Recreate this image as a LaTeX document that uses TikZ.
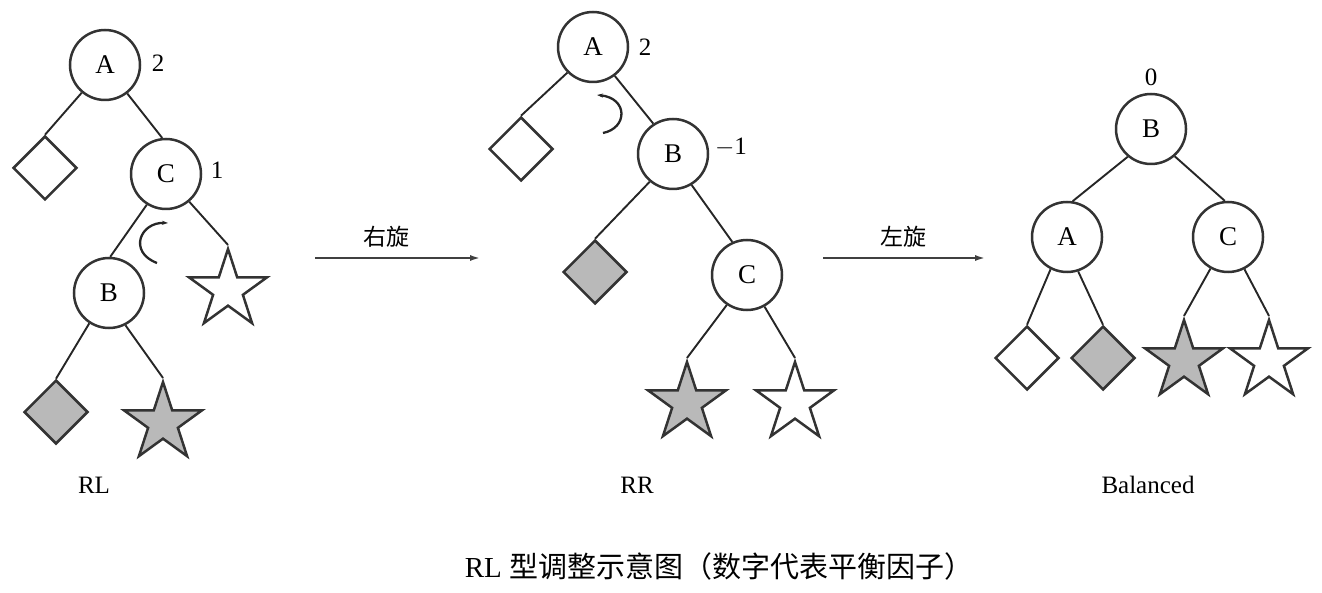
\documentclass[tikz,border=0pt]{standalone}
\usepackage{fontspec}
\setmainfont{Liberation Serif}
\newfontfamily\cjk{Noto Sans CJK SC}
\usetikzlibrary{shapes.geometric,arrows.meta}
\begin{document}
\begin{tikzpicture}[x=1pt,y=-1pt,
  nd/.style={circle,draw=black!80,line width=2.5pt,minimum size=70pt,inner sep=0pt,font=\fontsize{27}{27}\selectfont},
  dia/.style={diamond,draw=black!80,line width=2.5pt,minimum size=64pt,inner sep=0pt},
  stp/.style={star,star points=5,star point ratio=2.618,draw=black!80,line width=2.5pt,minimum size=82pt,inner sep=0pt},
  gfill/.style={fill=gray!55},
  wfill/.style={fill=white},
  edge/.style={draw=black!85,line width=1.9pt},
  bfac/.style={font=\fontsize{25}{25}\selectfont,inner sep=0pt},
  lbl/.style={font=\fontsize{25}{25}\selectfont,inner sep=0pt},
  curl/.style={draw=black!85,line width=2.3pt},
  rot/.style={draw=black!75,line width=2.3pt,-{Latex[length=11pt,width=6pt]}},
  rotlbl/.style={font=\cjk\fontsize{23}{23}\selectfont,inner sep=0pt},
]
\useasboundingbox (0,0) rectangle (1322,593);

% ---------- Left tree (RL) ----------
\node[nd] (LA) at (105,65) {A};
\node[nd] (LC) at (166,174) {C};
\node[nd] (LB) at (109,293) {B};
\node[dia,wfill] (Ld1) at (45,168) {};
\node[dia,gfill] (Ld2) at (56,412) {};
\node[stp,wfill] (Ls1) at (228,290) {};
\node[stp,gfill] (Ls2) at (163,423) {};
\draw[edge] (LA.-130) -- (Ld1.north);
\draw[edge] (LA.-52) -- (LC.96);
\draw[edge] (LC.-122) -- (LB.88);
\draw[edge] (LC.-50) -- (Ls1.outer point 1);
\draw[edge] (LB.-123) -- (Ld2.north);
\draw[edge] (LB.-63) -- (Ls2.outer point 1);
\node[bfac] (LnA) at (158,63) {2};
\node[bfac] (LnC) at (217,170) {1};
\coordinate (Lc1) at (168,223);
\coordinate (Lc2) at (157,263);
\draw[curl,{Stealth[length=6pt,width=4pt]}-] (Lc1) .. controls (140,222) and (128,252) .. (Lc2);
\node[lbl] (Lname) at (94,485) {RL};

% ---------- Arrow 1 ----------
\coordinate (r1s) at (315,258);
\coordinate (r1e) at (481,258);
\draw[rot] (r1s) -- (r1e);
\node[rotlbl] (r1l) at (386,237) {右旋};

% ---------- Middle tree (RR) ----------
\node[nd] (MA) at (593,47) {A};
\node[nd] (MB) at (673,154) {B};
\node[nd] (MC) at (747,275) {C};
\node[dia,wfill] (Md1) at (521,149) {};
\node[dia,gfill] (Md2) at (595,272) {};
\node[stp,gfill] (Ms1) at (687,403) {};
\node[stp,wfill] (Ms2) at (795,403) {};
\draw[edge] (MA.-135) -- (Md1.north);
\draw[edge] (MA.-53) -- (MB.123);
\draw[edge] (MB.-130) -- (Md2.north);
\draw[edge] (MB.-59) -- (MC.114);
\draw[edge] (MC.-124) -- (Ms1.outer point 1);
\draw[edge] (MC.-61) -- (Ms2.outer point 1);
\node[bfac] (MnA) at (645,47) {2};
\node[bfac] (MnB) at (731,147) {$-$1};
\coordinate (Mc1) at (597,95);
\coordinate (Mc2) at (603,133);
\draw[curl,{Stealth[length=6pt,width=4pt]}-] (Mc1) .. controls (628,98) and (628,128) .. (Mc2);
\node[lbl] (Mname) at (637,485) {RR};

% ---------- Arrow 2 ----------
\coordinate (r2s) at (823,258);
\coordinate (r2e) at (986,258);
\draw[rot] (r2s) -- (r2e);
\node[rotlbl] (r2l) at (903,237) {左旋};

% ---------- Right tree (Balanced) ----------
\node[nd] (RB) at (1151,129) {B};
\node[nd] (RA) at (1067,237) {A};
\node[nd] (RC) at (1228,237) {C};
\node[dia,wfill] (Rd1) at (1027,358) {};
\node[dia,gfill] (Rd2) at (1103,358) {};
\node[stp,gfill] (Rs1) at (1184,361) {};
\node[stp,wfill] (Rs2) at (1269,361) {};
\draw[edge] (RB.-130) -- (RA.81);
\draw[edge] (RB.-49) -- (RC.95);
\draw[edge] (RA.-117) -- (Rd1.north);
\draw[edge] (RA.-72) -- (Rd2.north);
\draw[edge] (RC.-119) -- (Rs1.outer point 1);
\draw[edge] (RC.-63) -- (Rs2.outer point 1);
\node[bfac] (RnB) at (1151,77) {0};
\node[lbl] (Rname) at (1148,485) {Balanced};

% ---------- Caption ----------
\node[inner sep=0pt,font=\fontsize{29}{29}\selectfont] (cap) at (719,566) {RL {\cjk 型调整示意图（数字代表平衡因子）}};
\end{tikzpicture}
\end{document}
